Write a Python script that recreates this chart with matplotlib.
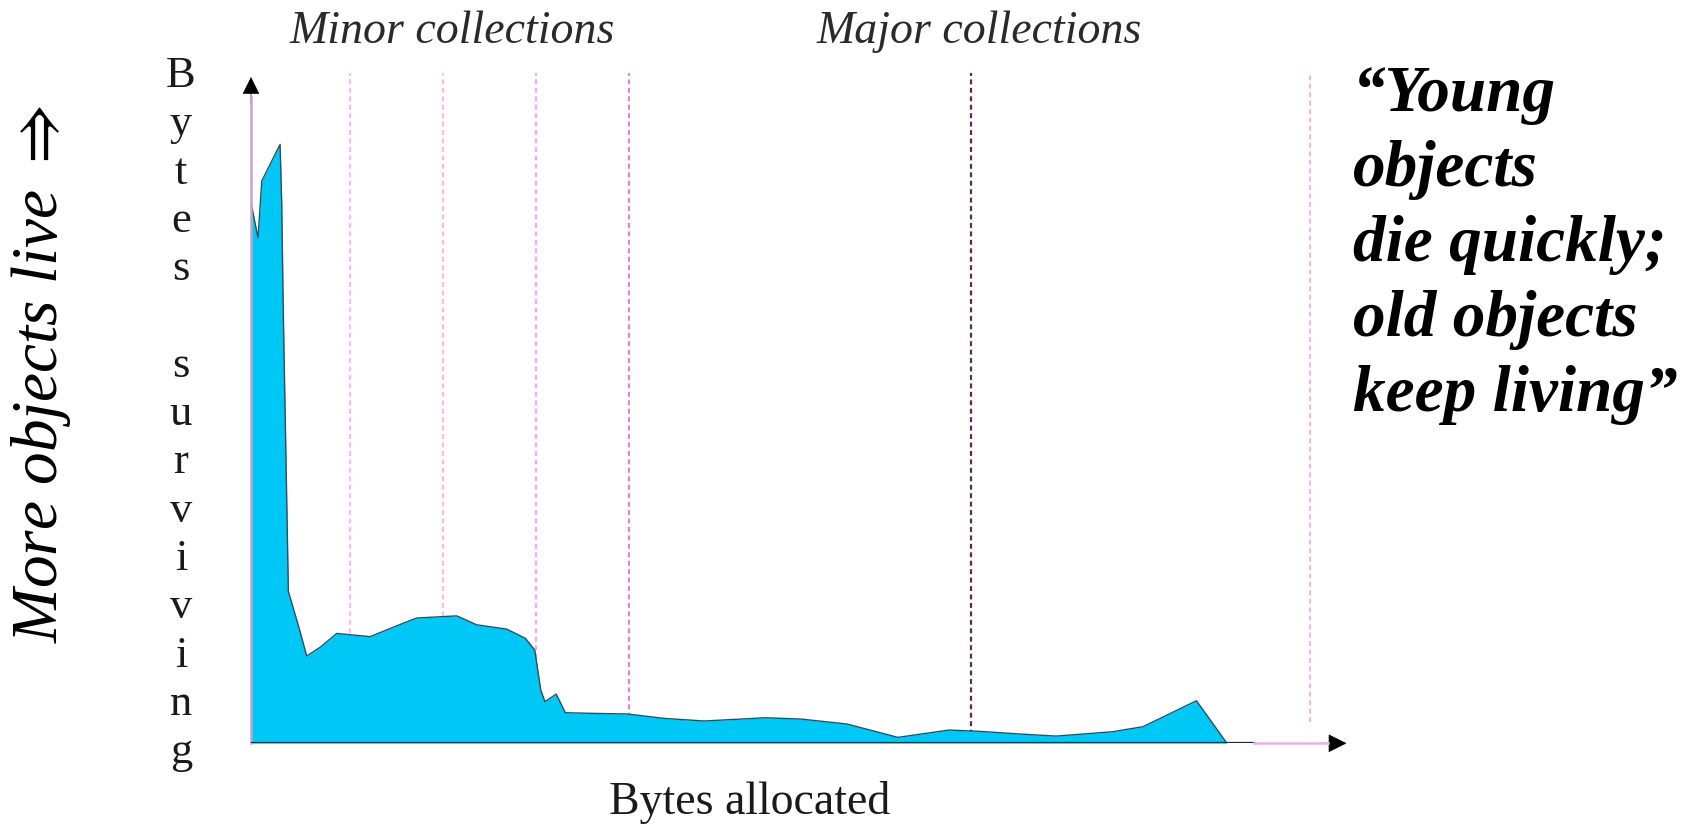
import matplotlib
matplotlib.use("Agg")
import matplotlib.pyplot as plt

plt.rcParams['mathtext.fontset'] = 'stix'

# bytes allocated (arbitrary units) vs bytes surviving (arbitrary units)
alloc = [0, 0.65, 1.0, 2.7, 2.85, 3.0, 3.47, 4.55, 5.17, 6.4, 7.96, 11.05,
         14.14, 15.38, 19.1, 20.95, 23.74, 25.48, 26.34, 26.9, 27.29, 28.33,
         29.18, 31.64, 34.96, 38.28, 42.06, 47.75, 51.06, 55.33, 60.06, 64.8,
         67.64, 71.43, 74.73, 79.94, 82.8, 87.77, 90.6]
surviving = [50.2, 46.9, 52.2, 55.6, 50.2, 39.9, 14.1, 10.4, 8.1, 8.9, 10.2,
             9.9, 11.15, 11.63, 11.83, 11.0, 10.6, 9.74, 8.66, 4.94, 3.86,
             4.57, 2.84, 2.78, 2.72, 2.32, 2.07, 2.37, 2.25, 1.79, 0.55, 1.23,
             1.11, 0.86, 0.67, 1.07, 1.54, 3.95, 0.0]
tail_end = 93.1

minor_x = [9.2, 17.8, 26.5, 35.1]
minor_colors = ['#f6bcf2', '#f6bcf2', '#f0a8ec', '#d888cc']
major_x = [66.8, 98.3]
major_colors = ['#5a2a50', '#eebae6']
major_bottom = [0, 2.0]

quote_lines = ['\u201cYoung', 'objects', 'die quickly;', 'old objects',
               'keep living\u201d']
y_letters = list('Bytes') + [''] + list('surviving')

W, H = 1689, 827
fig = plt.figure(figsize=(W / 100, H / 100), dpi=100)
ax = fig.add_axes([251 / W, 1 - 743.3 / H, 1095.5 / W, 665.7 / H])
ax.set_xlim(0, 101.7)
ax.set_ylim(0, 61.8)
ax.axis('off')

serif = 'Liberation Serif'

# collection markers
for x, c in zip(minor_x, minor_colors):
    ax.vlines(x, 0, 62.2, colors=c, linestyles=(0, (2.2, 1.6)), lw=1.6,
              clip_on=False, zorder=1)
for x, c, b in zip(major_x, major_colors, major_bottom):
    ax.vlines(x, b, 62.2, colors=c, linestyles=(0, (2.2, 1.6)), lw=1.6,
              clip_on=False, zorder=1)

# surviving bytes
ax.fill_between(alloc, surviving, 0, color='#00c8f6', lw=0, zorder=2)
ax.plot(alloc, surviving, color='#2a5060', lw=1.0, zorder=3)

# axes with arrows
ax.plot([0, 0], [0, 60], color='#c4a4c4', lw=1.8, zorder=4, clip_on=False)
ax.plot([0, tail_end], [0, 0], color='#1a2a30', lw=1.6, zorder=4)
ax.plot([tail_end, 100], [0, 0], color='#eab0ea', lw=1.8, zorder=4,
        clip_on=False)
ax.annotate('', xy=(0, 61.85), xytext=(0, 59.5),
            arrowprops=dict(arrowstyle='-|>', color='black', lw=0.5,
                            mutation_scale=28, shrinkA=0, shrinkB=0),
            annotation_clip=False)
ax.annotate('', xy=(101.7, 0), xytext=(99.3, 0),
            arrowprops=dict(arrowstyle='-|>', color='black', lw=0.5,
                            mutation_scale=30, shrinkA=0, shrinkB=0),
            annotation_clip=False)

# labels
fig.text(452 / W, 1 - 32 / H, 'Minor collections', family=serif,
         style='italic', fontsize=33, color='#2a2a2a', ha='center',
         va='center')
fig.text(979 / W, 1 - 32 / H, 'Major collections', family=serif,
         style='italic', fontsize=33, color='#2a2a2a', ha='center',
         va='center')
fig.text(750 / W, 1 - 802 / H, 'Bytes allocated', family=serif,
         fontsize=33, color='#1a1a1a', ha='center', va='center')

for i, ch in enumerate(y_letters):
    if ch:
        fig.text(181 / W, 1 - (76 + i * 48.3) / H, ch, family=serif,
                 fontsize=32, color='#1a1a1a', ha='center', va='center')

fig.text(41 / W, 1 - 374 / H, r'More objects live $\Rightarrow$',
         family=serif, style='italic', fontsize=47, color='black',
         rotation=90, ha='center', va='center')

for i, line in enumerate(quote_lines):
    fig.text(1353 / W, 1 - (111 + i * 75) / H, line, family=serif,
             style='italic', weight='bold', fontsize=47, color='black',
             ha='left', va='baseline')

fig.savefig('out.png', dpi=100, facecolor='white')
